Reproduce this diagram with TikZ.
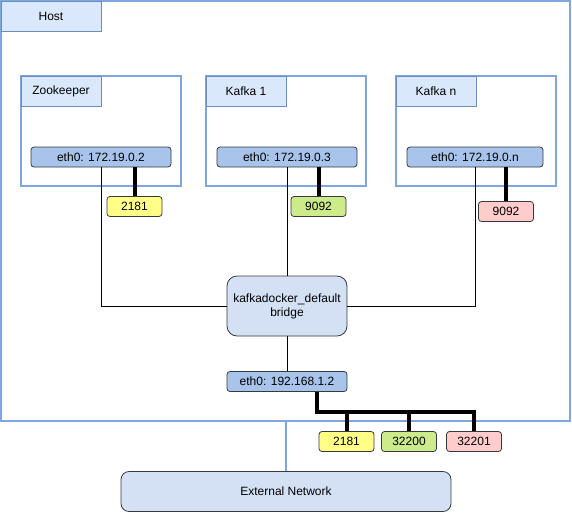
\documentclass[tikz,border=0pt]{standalone}
\usepackage{fontspec}
\setmainfont{Liberation Sans}
\usetikzlibrary{positioning}
\definecolor{hostblue}{HTML}{7EA6E0}
\definecolor{tabfill}{HTML}{DAE8FC}
\definecolor{tabline}{HTML}{6C8EBF}
\definecolor{ethfill}{HTML}{A9C4EB}
\definecolor{netfill}{HTML}{D4E1F5}
\definecolor{darkline}{HTML}{36393D}
\definecolor{portyellow}{HTML}{FFFF88}
\definecolor{portgreen}{HTML}{CDEB8B}
\definecolor{portred}{HTML}{FFCCCC}

\begin{document}
\begin{tikzpicture}[x=1pt, y=-1pt, font=\fontsize{12}{14}\selectfont,
    host/.style = {draw=hostblue, line width=1.5pt, minimum width=569, minimum height=420, inner sep=0},
    box/.style = {draw=hostblue, line width=2pt, fill=white, minimum width=160, minimum height=110, inner sep=0},
    tab/.style = {draw=tabline, fill=tabfill, line width=0.8pt, minimum width=80, minimum height=30, inner sep=0},
    eth/.style = {draw=darkline, fill=ethfill, rounded corners=3, line width=0.8pt, minimum height=20, inner sep=0},
    port/.style = {draw=darkline, rounded corners=3, line width=0.8pt, minimum width=55, minimum height=20, inner sep=0},
    net/.style = {draw=darkline, fill=netfill, line width=0.8pt, inner sep=0},
    wire/.style = {black, line width=4pt}]
            \useasboundingbox (0,0) rectangle (572,512);
            \node[host] (host) at (285.5,211) {};
            \node[tab, minimum width=100] (hosttab) at (51,16) {Host};
            \node[box] (zk) at (101,131) {};
            \node[box] (k1) at (286,131) {};
            \node[box] (kn) at (476,131) {};
            \node[tab] (zktab) at (61,91) {Zookeeper};
            \node[tab] (k1tab) at (246,91) {Kafka 1};
            \node[tab] (kntab) at (436,91) {Kafka n};
            \node[eth, minimum width=140] (zketh) at (101,157) {eth0: 172.19.0.2};
            \node[eth, minimum width=140] (k1eth) at (287,157) {eth0: 172.19.0.3};
            \node[eth, minimum width=136] (kneth) at (475,157) {eth0: 172.19.0.n};
            \node[port, fill=portyellow] (zkport) at (134.5,206.5) {2181};
            \node[port, fill=portgreen] (k1port) at (318.5,206.5) {9092};
            \node[port, fill=portred] (knport) at (506,211.5) {9092};
            \node[net, rounded corners=10, minimum width=120, minimum height=60, align=center] (bridge) at (287,306) {kafkadocker\_default\\bridge};
            \node[eth, minimum width=120] (hosteth) at (287,381.5) {eth0: 192.168.1.2};
            \node[port, fill=portyellow] (p1) at (346.5,441.5) {2181};
            \node[port, fill=portgreen] (p2) at (409,441.5) {32200};
            \node[port, fill=portred] (p3) at (474,441.5) {32201};
            \node[net, rounded corners=8, minimum width=330, minimum height=40] (ext) at (286,491.5) {External Network};
            \coordinate (bus) at (317,412);
            \draw[wire] (zkport.north) -- (zkport.north |- zketh.south);
            \draw[wire] (k1port.north) -- (k1port.north |- k1eth.south);
            \draw[wire] (knport.north) -- (knport.north |- kneth.south);
            \draw[wire] (hosteth.south -| bus) |- (p3.north |- bus) -- (p3.north);
            \draw[wire] (p1.north) -- (p1.north |- bus);
            \draw[wire] (p2.north) -- (p2.north |- bus);
            \draw[black, line width=1pt] (zketh.south) |- (bridge.west);
            \draw[black, line width=1pt] (kneth.south) |- (bridge.east);
            \draw[black, line width=1pt] (k1eth.south) -- (k1eth.south |- bridge.north);
            \draw[black, line width=1pt] (bridge.south) -- (hosteth.north);
            \draw[hostblue, line width=1.5pt] (ext.north) -- (ext.north |- host.south);
        \end{tikzpicture}
\end{document}
